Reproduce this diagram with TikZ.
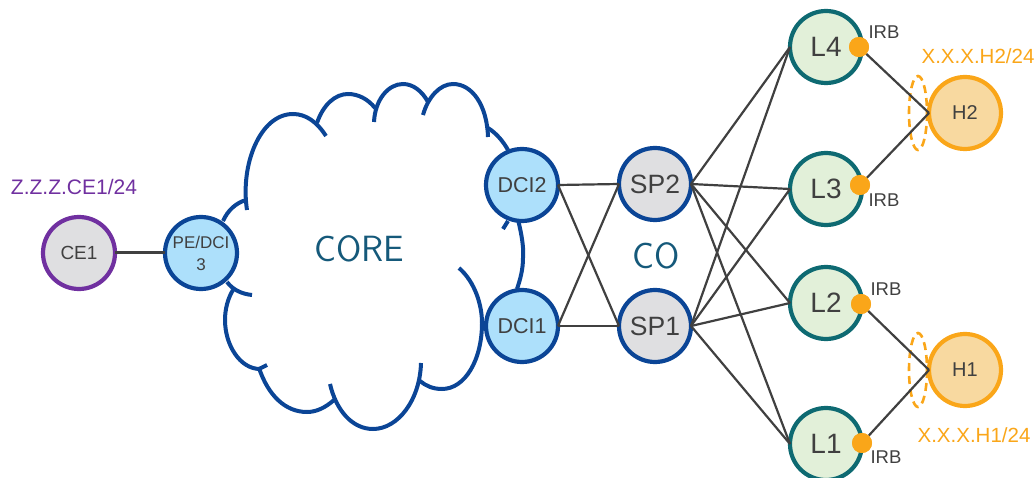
\documentclass[tikz,border=0pt]{standalone}
\usepackage{fontspec}
\setmainfont{Liberation Sans}
\definecolor{cloudblue}{HTML}{0B4596}
\definecolor{dcifill}{HTML}{ADE0FB}
\definecolor{spfill}{HTML}{DFDFE1}
\definecolor{leaffill}{HTML}{E2F0D9}
\definecolor{leafline}{HTML}{0E6A72}
\definecolor{hostfill}{HTML}{F8D9A0}
\definecolor{hostline}{HTML}{FAA619}
\definecolor{cepurple}{HTML}{7030A0}
\definecolor{linkgrey}{HTML}{404040}
\definecolor{coreteal}{HTML}{15597A}
\newcommand{\fs}[1]{\fontsize{#1pt}{#1pt}\selectfont}
\tikzset{
  dev/.style={circle,minimum size=72pt,inner sep=0pt,outer sep=0pt,line width=4.2pt,text=linkgrey},
  cenode/.style={dev,draw=cepurple,fill=spfill,font=\fs{19}},
  penode/.style={dev,draw=cloudblue,fill=dcifill,align=center,font=\fs{17}},
  dcinode/.style={dev,draw=cloudblue,fill=dcifill,font=\fs{21.5}},
  spnode/.style={dev,draw=cloudblue,fill=spfill,font=\fs{26.5}},
  leafnode/.style={dev,draw=leafline,fill=leaffill,font=\fs{28}},
  hostnode/.style={dev,draw=hostline,fill=hostfill,font=\fs{20}},
  irbdot/.style={circle,fill=hostline,minimum size=20pt,inner sep=0pt,outer sep=0pt},
  link/.style={draw=linkgrey,line width=2.2pt},
  cloudarc/.style={draw=cloudblue,line width=4pt,line cap=butt},
  scopeoval/.style={draw=hostline,line width=2.6pt,dash pattern=on 8pt off 5pt},
  small/.style={text=linkgrey,font=\fs{18.5},inner sep=0pt},
  addr/.style={text=hostline,font=\fs{20.5},inner sep=0pt},
  biglabel/.style={text=coreteal,font=\sffamily\fs{36.5},inner sep=0pt},
}
\begin{document}
\begin{tikzpicture}[x=1pt,y=-1pt]
\useasboundingbox (0,0) rectangle (1034,478);
% cloud
\draw[cloudarc] (223,221) .. controls (228,210) and (236,203) .. (246,200);
\draw[cloudarc] (247,210) .. controls (240,165) and (260,114) .. (293,114) .. controls (306,114) and (317,122) .. (326,136);
\draw[cloudarc] (317,123) .. controls (323,105) and (335,94) .. (348,94) .. controls (358,94) and (368,99) .. (375,108);
\draw[cloudarc] (374,122) .. controls (375,100) and (388,84) .. (403,84) .. controls (413,84) and (422,91) .. (428,102);
\draw[cloudarc] (423,115) .. controls (428,97) and (440,84) .. (453,84) .. controls (472,84) and (487,105) .. (488,137);
\draw[cloudarc] (488,128) .. controls (496,133) and (503,141) .. (508,150);
\draw[cloudarc] (503,229) -- (508,221);
\draw[cloudarc] (518,220) .. controls (522,235) and (524,250) .. (523,258) .. controls (523,270) and (520,280) .. (517,289);
\draw[cloudarc] (459,268) .. controls (475,282) and (482,305) .. (482,323) .. controls (482,360) and (465,389) .. (442,389) .. controls (433,389) and (426,386) .. (420,381);
\draw[cloudarc] (421,363) .. controls (420,400) and (398,429) .. (373,429) .. controls (352,429) and (336,410) .. (330,384);
\draw[cloudarc] (334,400) .. controls (325,408) and (316,412) .. (307,412) .. controls (285,412) and (268,395) .. (259,368);
\draw[cloudarc] (267,365) -- (259,369);
\draw[cloudarc] (260,369) .. controls (240,369) and (225,345) .. (225,320) .. controls (225,309) and (228,298) .. (233,290);
\draw[cloudarc] (227,282) .. controls (233,290) and (242,294) .. (252,295);
% devices
\node[cenode] (ce1) at (79,253) {CE1};
\node[penode] (pe) at (201,253) {PE/DCI\\[5pt]3};
\node[dcinode] (dci2) at (522,185) {DCI2};
\node[dcinode] (dci1) at (522,326) {DCI1};
\node[spnode] (sp2) at (655,184) {SP2};
\node[spnode] (sp1) at (655,326) {SP1};
\node[leafnode] (l4) at (826,47) {L4};
\node[leafnode] (l3) at (826,189) {L3};
\node[leafnode] (l2) at (826,303) {L2};
\node[leafnode] (l1) at (826,444) {L1};
\draw[scopeoval] (918,113) ellipse [x radius=9,y radius=37];
\draw[scopeoval] (918,370) ellipse [x radius=9,y radius=37];
\node[hostnode] (h2) at (965,113) {H2};
\node[hostnode] (h1) at (965,370) {H1};
\node[irbdot] (d4) at (859,47) {};
\node[irbdot] (d3) at (860,185) {};
\node[irbdot] (d2) at (861,304) {};
\node[irbdot] (d1) at (862,443) {};
% links
\draw[draw=linkgrey,line width=3pt] (ce1) -- (pe);
\foreach \a in {dci2,dci1} \foreach \b in {sp2,sp1} \draw[link] (\a.east) -- (\b.west);
\foreach \a in {sp2,sp1} \foreach \b in {l4,l3,l2,l1} \draw[link] (\a.east) -- (\b.west);
\draw[link] (d4) -- (h2.west);
\draw[link] (d3) -- (h2.west);
\draw[link] (d2) -- (h1.west);
\draw[link] (d1) -- (h1.west);
\node[irbdot] at (d4) {};
\node[irbdot] at (d3) {};
\node[irbdot] at (d2) {};
\node[irbdot] at (d1) {};
% labels
\node[small] (i4) at (884,32) {IRB};
\node[small] (i3) at (884,200) {IRB};
\node[small] (i2) at (886,289) {IRB};
\node[small] (i1) at (886,457) {IRB};
\node[addr] (a2) at (978,56) {X.X.X.H2/24};
\node[addr] (a1) at (974,435) {X.X.X.H1/24};
\node[text=cepurple,font=\fs{21},inner sep=0pt] (a3) at (74,187) {Z.Z.Z.CE1/24};
\node[biglabel] (core) at (359,249) {CORE};
\node[biglabel] (co) at (656,256) {CO};
\end{tikzpicture}
\end{document}
